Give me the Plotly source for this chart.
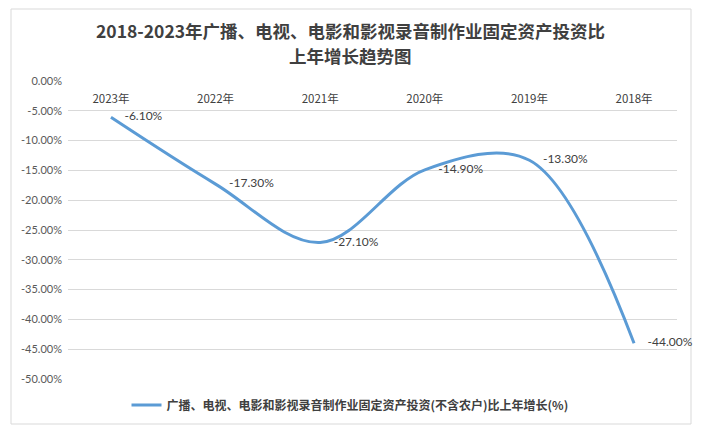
import plotly.graph_objects as go

years = ["2023年", "2022年", "2021年", "2020年", "2019年", "2018年"]
growth = [-6.1, -17.3, -27.1, -14.9, -13.3, -44.0]
series_name = "广播、电视、电影和影视录音制作业固定资产投资(不含农户)比上年增长(%)"
y_ticks = [0, -5, -10, -15, -20, -25, -30, -35, -40, -45, -50]
y_tick_text = ["%.2f%%" % v for v in y_ticks]
title_lines = ["2018-2023年广播、电视、电影和影视录音制作业固定资产投资比", "上年增长趋势图"]

FONT = "Lato, 'Noto Sans CJK SC', sans-serif"
CJK = "'Noto Sans CJK SC', sans-serif"

fig = go.Figure()
fig.add_trace(go.Scatter(
    x=years, y=growth, name=series_name,
    mode="lines+markers+text",
    line=dict(color="#5B9BD5", width=3, shape="spline", smoothing=1.0),
    marker=dict(size=20, color="rgba(0,0,0,0)"),
    text=["%.2f%%" % v for v in growth],
    textposition="middle right",
    textfont=dict(family=FONT, size=12, color="#404040"),
    cliponaxis=False,
))

L, R, T, B = 68, 24, 81, 54
W, H = 701, 433
pw, ph = W - L - R, H - T - B
def px(x):
    return (x - L) / pw
def py(y):
    return (H - B - y) / ph

title_y = [30, 55]
for line, yy in zip(title_lines, title_y):
    fig.add_annotation(text=line, xref="paper", yref="paper", x=px(350), y=py(yy),
                       xanchor="center", yanchor="middle", showarrow=False,
                       font=dict(family=CJK, size=17.5, color="#404040", weight="bold"))

fig.update_layout(
    width=W, height=H,
    margin=dict(l=L, r=R, t=T, b=B),
    paper_bgcolor="white", plot_bgcolor="white",
    font=dict(family=FONT, color="#595959"),
    showlegend=True,
    legend=dict(orientation="h", x=px(350), xanchor="center", y=py(405), yanchor="middle",
                font=dict(family=CJK, size=12, color="#404040", weight="bold"),
                bgcolor="rgba(0,0,0,0)"),
    xaxis=dict(type="category", anchor="free", position=1, side="bottom",
               showgrid=False, showline=False, ticks="", zeroline=False,
               ticklabelstandoff=9,
               tickfont=dict(family=CJK, size=11.5, color="#404040")),
    yaxis=dict(range=[-50, 0], tickvals=y_ticks, ticktext=y_tick_text,
               showgrid=True, gridcolor="#D9D9D9", gridwidth=1, zeroline=False,
               showline=False, ticks="", ticklabelstandoff=5,
               tickfont=dict(family=FONT, size=11, color="#595959")),
    shapes=[dict(type="rect", xref="paper", yref="paper",
                 x0=px(11), x1=px(691), y0=py(424), y1=py(9),
                 line=dict(color="#D9D9D9", width=1), fillcolor="rgba(0,0,0,0)", layer="below")],
)

fig.write_html("out.html", config={"displayModeBar": False},
               post_script="document.body.style.margin='0';")
